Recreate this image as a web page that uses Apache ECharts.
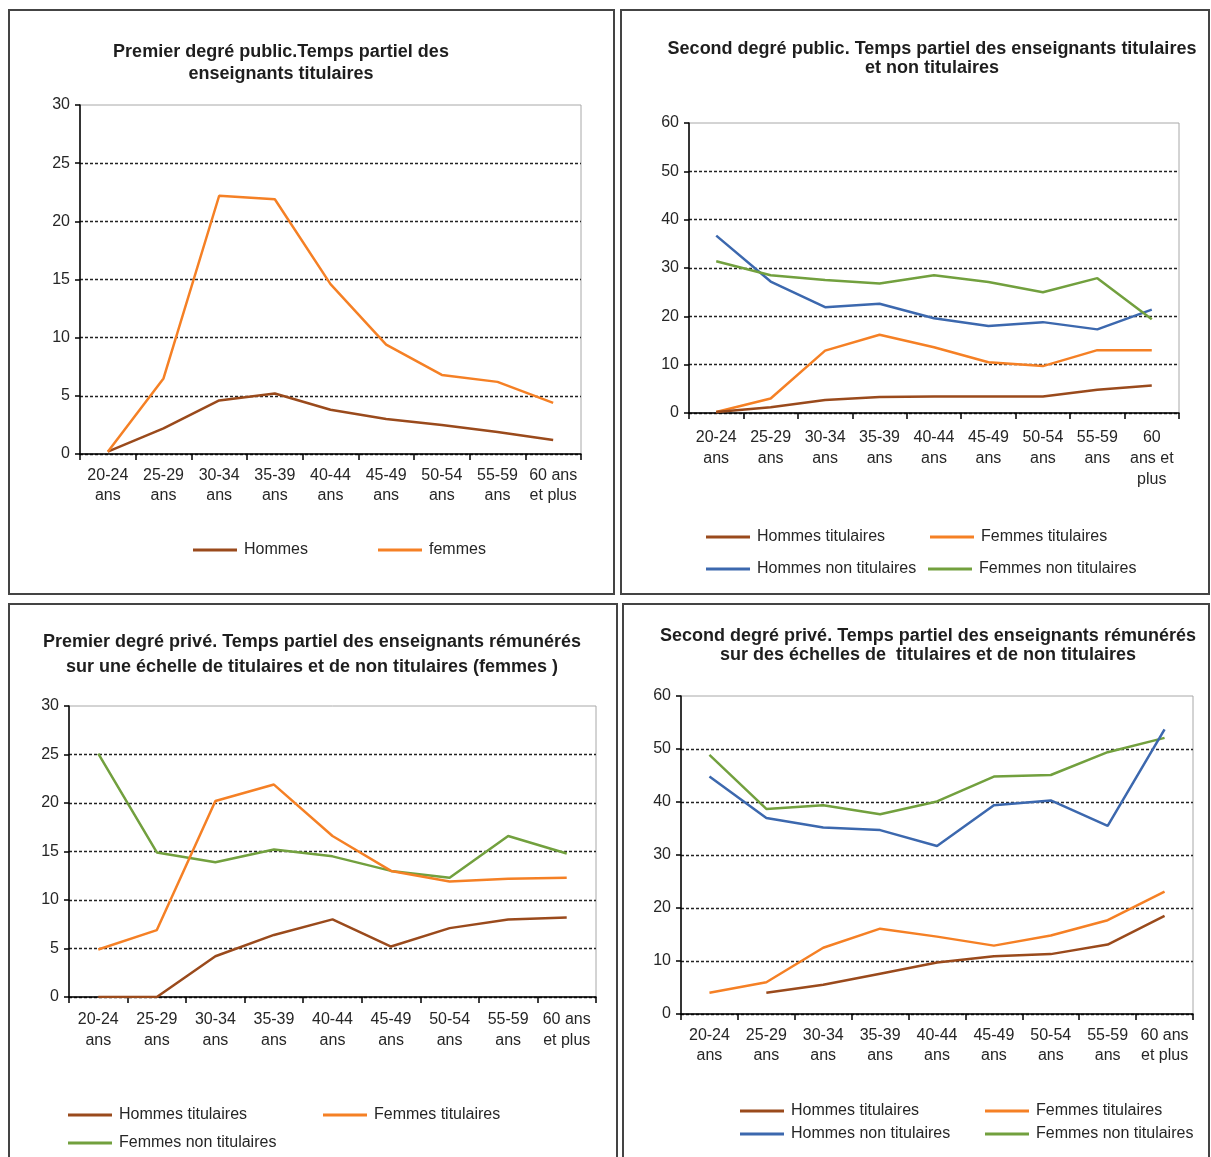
<!DOCTYPE html>
<html>
<head>
<meta charset="utf-8">
<script src="https://cdn.jsdelivr.net/npm/echarts@6/dist/echarts.min.js"></script>
<style>
html,body{margin:0;padding:0;background:#fff;}
#chart{width:1211px;height:1157px;}
</style>
</head>
<body>
<div id="chart"></div>
<script>
// ---------- DATA ----------
const catsTL = ['20-24\nans','25-29\nans','30-34\nans','35-39\nans','40-44\nans','45-49\nans','50-54\nans','55-59\nans','60 ans\net plus'];
const catsTR = ['20-24\nans','25-29\nans','30-34\nans','35-39\nans','40-44\nans','45-49\nans','50-54\nans','55-59\nans','60\nans et\nplus'];
const catsBL = catsTL;
const catsBR = catsTL;

const ticksTL = [0, 5, 10, 15, 20, 25, 30];
const ticksTR = [0, 10, 20, 30, 40, 50, 60];

// Premier degré public
const tlHommes = [0.2, 2.2, 4.6, 5.2, 3.8, 3.0, 2.5, 1.9, 1.2];
const tlFemmes = [0.2, 6.5, 22.2, 21.9, 14.6, 9.4, 6.8, 6.2, 4.4];

// Second degré public
const trHommesTit = [0.2, 1.2, 2.7, 3.3, 3.4, 3.4, 3.4, 4.8, 5.7];
const trFemmesTit = [0.2, 3.0, 12.9, 16.2, 13.6, 10.5, 9.7, 13.0, 13.0];
const trHommesNon = [36.7, 27.2, 21.9, 22.6, 19.6, 18.0, 18.8, 17.3, 21.4];
const trFemmesNon = [31.4, 28.5, 27.5, 26.8, 28.5, 27.1, 25.0, 27.9, 19.4];

// Premier degré privé
const blHommesTit = [0, 0, 4.2, 6.4, 8.0, 5.2, 7.1, 8.0, 8.2];
const blFemmesTit = [4.9, 6.9, 20.2, 21.9, 16.6, 13.0, 11.9, 12.2, 12.3];
const blFemmesNon = [25.1, 14.9, 13.9, 15.2, 14.5, 13.0, 12.3, 16.6, 14.8];

// Second degré privé
const brHommesTit = [null, 4.0, 5.5, 7.6, 9.7, 10.9, 11.3, 13.1, 18.5];
const brFemmesTit = [4.0, 6.0, 12.5, 16.1, 14.6, 12.9, 14.8, 17.7, 23.1];
const brHommesNon = [44.8, 37.0, 35.2, 34.7, 31.7, 39.4, 40.3, 35.5, 53.7];
const brFemmesNon = [48.9, 38.7, 39.4, 37.7, 40.1, 44.8, 45.1, 49.4, 52.1];

// ---------- STYLE ----------
const FONT = '"Liberation Sans", Arial, sans-serif';
const C = { brown: '#9a4a1c', orange: '#f58025', blue: '#3c68ae', green: '#72a03e' };

const grids = [
  { left: 80,  top: 105, width: 501, height: 349 },
  { left: 689, top: 123, width: 490, height: 290 },
  { left: 69,  top: 706, width: 527, height: 291 },
  { left: 681, top: 696, width: 512, height: 318 }
].map(g => Object.assign(g, { show: true, borderColor: '#a8a8a8', borderWidth: 1, backgroundColor: 'transparent' }));

function xAxis(i, cats, margin, lh) {
  return {
    type: 'category', gridIndex: i, data: cats, boundaryGap: true,
    axisLine: { show: true, lineStyle: { color: '#000', width: 1.5 } },
    axisTick: { show: true, length: 6, lineStyle: { color: '#000', width: 1.5 } },
    axisLabel: { interval: 0, margin: margin, color: '#262626', fontSize: 16, fontFamily: FONT, lineHeight: lh }
  };
}
function yAxis(i, ticks) {
  const n = ticks.length;
  const colors = ticks.map((t, k) => k === n - 1 ? 'rgba(0,0,0,0)' : '#222');
  return {
    type: 'value', gridIndex: i, min: ticks[0], max: ticks[n - 1], interval: ticks[1] - ticks[0],
    axisLine: { show: true, lineStyle: { color: '#000', width: 1.5 } },
    axisTick: { show: true, length: 5, lineStyle: { color: '#000', width: 1.5 } },
    axisLabel: { margin: 10, color: '#262626', fontSize: 16, fontFamily: FONT },
    splitLine: { show: true, lineStyle: { color: colors, width: 1.3, type: [3, 2] } }
  };
}
function line(name, data, idx, color) {
  return {
    type: 'line', name: name, data: data, xAxisIndex: idx, yAxisIndex: idx,
    symbol: 'none', smooth: false, connectNulls: false,
    lineStyle: { color: color, width: 2.5 }, itemStyle: { color: color },
    emphasis: { disabled: true }, animation: false
  };
}
function legend(name, left, yc) {
  return {
    data: [name], left: left, top: yc - 9, padding: 0,
    icon: 'rect', itemWidth: 44, itemHeight: 3, selectedMode: false,
    textStyle: { fontSize: 16, fontFamily: FONT, color: '#262626', lineHeight: 18, padding: [0, 0, 0, 2] }
  };
}
function title(text, cx, top, lh) {
  return {
    type: 'text', x: cx, y: top, silent: true,
    style: { text: text, textAlign: 'center', textVerticalAlign: 'top', fill: '#1e1e1e',
             font: 'bold 18px ' + FONT, lineHeight: lh }
  };
}
function panel(x, y, w, h) {
  return { type: 'rect', silent: true, shape: { x: x, y: y, width: w, height: h },
           style: { fill: 'none', stroke: '#444', lineWidth: 2 } };
}

const option = {
  backgroundColor: '#fff',
  animation: false,
  grid: grids,
  xAxis: [ xAxis(0, catsTL, 12, 20), xAxis(1, catsTR, 14, 21), xAxis(2, catsBL, 12, 21), xAxis(3, catsBR, 12, 20) ],
  yAxis: [ yAxis(0, ticksTL), yAxis(1, ticksTR), yAxis(2, ticksTL), yAxis(3, ticksTR) ],
  legend: [
    legend('Hommes', 193, 550),
    legend('femmes', 378, 550),
    legend('Hommes titulaires', 706, 537),
    legend('Femmes titulaires', 930, 537),
    legend('Hommes non titulaires', 706, 569),
    legend('Femmes non titulaires', 928, 569),
    legend('Hommes titulaires', 68, 1115),
    legend('Femmes titulaires', 323, 1115),
    legend('Femmes non titulaires', 68, 1143),
    legend('Hommes titulaires', 740, 1111),
    legend('Femmes titulaires', 985, 1111),
    legend('Hommes non titulaires', 740, 1134),
    legend('Femmes non titulaires', 985, 1134)
  ],
  series: [
    line('Hommes', tlHommes, 0, C.brown),
    line('femmes', tlFemmes, 0, C.orange),
    line('Hommes non titulaires', trHommesNon, 1, C.blue),
    line('Femmes non titulaires', trFemmesNon, 1, C.green),
    line('Femmes titulaires', trFemmesTit, 1, C.orange),
    line('Hommes titulaires', trHommesTit, 1, C.brown),
    line('Femmes non titulaires', blFemmesNon, 2, C.green),
    line('Femmes titulaires', blFemmesTit, 2, C.orange),
    line('Hommes titulaires', blHommesTit, 2, C.brown),
    line('Femmes non titulaires', brFemmesNon, 3, C.green),
    line('Hommes non titulaires', brHommesNon, 3, C.blue),
    line('Femmes titulaires', brFemmesTit, 3, C.orange),
    line('Hommes titulaires', brHommesTit, 3, C.brown)
  ],
  graphic: [
    panel(9, 10, 605, 584),
    panel(621, 10, 588, 584),
    panel(9, 604, 608, 570),
    panel(623, 604, 586, 570),
    title('Premier degré public.Temps partiel des\nenseignants titulaires', 281, 41, 22),
    title('Second degré public. Temps partiel des enseignants titulaires\net non titulaires', 932, 40, 19),
    title('Premier degré privé. Temps partiel des enseignants rémunérés\nsur une échelle de titulaires et de non titulaires (femmes )', 312, 630, 25),
    title('Second degré privé. Temps partiel des enseignants rémunérés\nsur des échelles de  titulaires et de non titulaires', 928, 627, 19)
  ]
};

const chart = echarts.init(document.getElementById('chart'), null, { renderer: 'canvas', width: 1211, height: 1157 });
chart.setOption(option);
</script>
</body>
</html>
